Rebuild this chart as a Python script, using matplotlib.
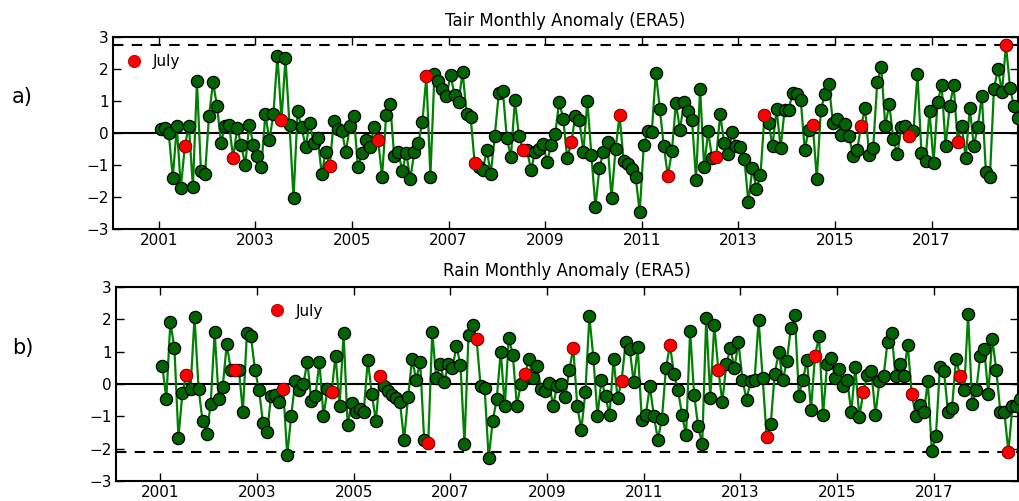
import numpy as np
import matplotlib
matplotlib.use("Agg")
import matplotlib.pyplot as plt

# ─── DATA (monthly anomalies, Jan 2001 onward) ───────────────────────────────
start_year = 2001

tair_anom = [
    0.14, 0.16, 0.00, -1.40, 0.22, -1.72, -0.40, 0.23, -1.70, 1.61, -1.19, -1.28,
    0.52, 1.59, 0.83, -0.31, 0.21, 0.24, -0.77, 0.16, -0.39, -0.99, 0.26, -0.36,
    -0.71, -1.07, 0.59, -0.23, 0.60, 2.42, 0.42, 2.33, 0.24, -2.03, 0.68, 0.19,
    -0.44, 0.31, -0.31, -0.17, -1.27, -0.60, -1.04, 0.39, 0.13, 0.05, -0.59, 0.21,
    0.52, -1.07, -0.63, -0.21, -0.44, 0.18, -0.21, -1.36, 0.55, 0.92, -0.71, -0.58,
    -1.18, -0.63, -1.44, -0.60, -0.31, 0.33, 1.77, -1.36, 1.84, 1.61, 1.38, 1.15,
    1.82, 1.19, 0.96, 1.91, 0.60, 0.49, -0.94, -1.07, -1.17, -0.54, -1.27, -0.08,
    1.26, 1.32, -0.17, -0.74, 1.02, -0.10, -0.52, -0.54, -1.15, -0.59, -0.49, -0.34,
    -0.92, -0.36, -0.03, 0.98, 0.44, -0.79, -0.29, 0.52, 0.40, -0.58, 1.01, -0.70,
    -2.31, -1.08, -0.58, -0.29, -2.03, -0.50, 0.55, -0.89, -0.96, -1.11, -1.39, -2.47,
    -0.39, 0.07, 0.02, 1.88, 0.75, -0.42, -1.35, -0.56, 0.94, 0.10, 0.96, 0.68,
    0.40, -1.46, 1.39, -1.06, 0.05, -0.79, -0.75, 0.58, -0.31, -0.66, 0.02, -0.42,
    -0.44, -0.81, -2.17, -1.09, -1.75, -1.32, 0.55, 0.31, -0.40, 0.76, -0.48, 0.73,
    0.73, 1.25, 1.22, 1.04, -0.52, 0.10, 0.24, -1.43, 0.71, 1.23, 1.53, 0.31,
    0.44, -0.06, 0.29, -0.08, -0.73, -0.54, 0.21, 0.78, -0.70, -0.47, 1.58, 2.06,
    0.23, 0.90, -0.18, -0.66, 0.19, 0.21, -0.08, 0.05, 1.83, -0.63, -0.86, 0.69,
    -0.94, 0.96, 1.49, -0.40, 0.83, 1.49, -0.27, 0.23, -0.79, 0.79, -0.41, 0.19,
    1.17, -1.22, -1.39, 1.39, 2.00, 1.29, 2.75, 1.41, 0.83, 0.47,
]

rain_anom = [
    0.55, -0.45, 1.91, 1.12, -1.66, -0.28, 0.29, -0.15, 2.07, -0.15, -1.15, -1.55,
    -0.62, 1.60, -0.46, -0.08, 1.24, 0.44, 0.42, 0.44, -0.86, 1.58, 1.47, 0.44,
    -0.18, -1.21, -1.48, -0.38, -0.33, -0.57, -0.15, -2.20, -0.98, 0.08, -0.18, 0.00,
    0.69, -0.54, -0.38, 0.69, -1.00, -0.15, -0.26, 0.88, -0.69, 1.58, -1.28, -0.59,
    -0.86, -0.77, -0.86, 0.75, -0.31, -1.15, 0.26, -0.05, -0.23, -0.33, -0.43, -0.57,
    -1.74, -0.40, 0.78, 0.13, 0.68, -1.74, -1.82, 1.60, 0.18, 0.62, 0.05, 0.63,
    0.49, 1.16, 0.60, -1.85, 1.53, 1.84, 1.39, -0.07, -0.12, -2.29, -1.15, -0.46,
    1.00, -0.69, 1.43, 0.90, -0.67, 0.01, 0.31, 0.77, 0.18, 0.57, -0.15, -0.23,
    0.03, -0.67, -0.05, 0.01, -0.41, 0.42, 1.11, -0.69, -1.41, -0.26, 2.09, 0.80,
    -1.00, 0.13, -0.38, -0.97, 0.78, -0.44, 0.10, 1.29, 1.09, 0.05, 1.13, -1.10,
    -0.95, -0.07, -0.98, -1.72, -1.08, 0.49, 1.21, 0.30, -0.20, -0.95, -1.59, 1.65,
    -0.33, -1.31, -1.87, 2.04, -0.43, 1.82, 0.44, -0.55, 0.62, 1.11, 0.49, 1.29,
    0.13, -0.48, 0.08, 0.13, 1.98, 0.19, -1.65, -1.24, 0.32, 0.98, 0.11, 0.70,
    1.73, 2.12, -0.36, 0.13, 0.75, -0.79, 0.88, 1.47, -0.95, 0.62, 0.80, 0.18,
    0.46, -0.05, 0.11, -0.87, 0.52, -1.02, -0.25, 0.29, 0.39, -0.95, 0.08, 0.24,
    1.29, 1.58, 0.24, 0.63, 0.26, 1.22, -0.30, -0.98, -0.65, -0.88, 0.08, -2.08,
    -1.62, 0.53, 0.41, -0.86, -0.75, 0.78, 0.26, -0.20, 2.15, -0.62, -0.20, 0.86,
    1.09, -0.30, 1.40, 0.42, -0.86, -0.88, -2.10, -0.69, -0.69, -0.45,
]

year_ticks = [2001, 2003, 2005, 2007, 2009, 2011, 2013, 2015, 2017]
y_ticks = [-3, -2, -1, 0, 1, 2, 3]


def month_axis(values):
    vals = np.asarray(values)
    idx = np.arange(len(vals))
    t = start_year + (idx + 0.5) / 12.0
    july = (idx % 12) == 6
    return t, vals, july


def draw_panel(ax, values, title, xlim, legend_anchor):
    t, vals, july = month_axis(values)

    ax.axhline(0, color="black", lw=1.5, zorder=1)
    # dashed reference at the most recent July value
    ax.axhline(vals[july][-1], color="black", lw=1.5, ls=(0, (5, 4)), zorder=1)

    ax.plot(t, vals, "-", color="#008000", lw=1.6, zorder=2)
    ax.plot(t, vals, "o", ms=8.8, mfc="#006400", mec="black", mew=0.9, zorder=3)
    ax.plot(t[july], vals[july], "o", ms=8.8, mfc="#ff0000", mec="#b00000",
            mew=0.6, zorder=4, label="July")

    ax.set_xlim(*xlim)
    ax.set_ylim(-3, 3)
    ax.set_xticks(year_ticks)
    ax.set_yticks(y_ticks)
    ax.tick_params(direction="in", top=True, right=True, length=6, width=1,
                   labelsize=11, pad=3)
    for sp in ax.spines.values():
        sp.set_linewidth(1.5)

    ax.set_title(title, fontsize=12, pad=8)
    ax.legend(loc="center left", bbox_to_anchor=legend_anchor, frameon=False,
              numpoints=1, handlelength=1.0, handletextpad=0.7, borderpad=0,
              borderaxespad=0, fontsize=11)


W, H = 1019, 501
fig = plt.figure(figsize=(W / 100, H / 100), dpi=100)

ax1 = fig.add_axes([113 / W, (H - 229) / H, (1018 - 113) / W, 192 / H])
ax2 = fig.add_axes([116 / W, (H - 481) / H, (1018 - 116) / W, 194 / H])

draw_panel(ax1, tair_anom, "Tair Monthly Anomaly (ERA5)",
           (2000.054, 2018.79), (0.0148, 0.87))
draw_panel(ax2, rain_anom, "Rain Monthly Anomaly (ERA5)",
           (2000.084, 2018.74), (0.1705, 0.876))

fig.text(12 / W, 1 - 97 / H, "a)", fontsize=15, va="center", ha="left")
fig.text(12 / W, 1 - 348 / H, "b)", fontsize=15, va="center", ha="left")

fig.savefig("out.png", dpi=100, facecolor="white")
